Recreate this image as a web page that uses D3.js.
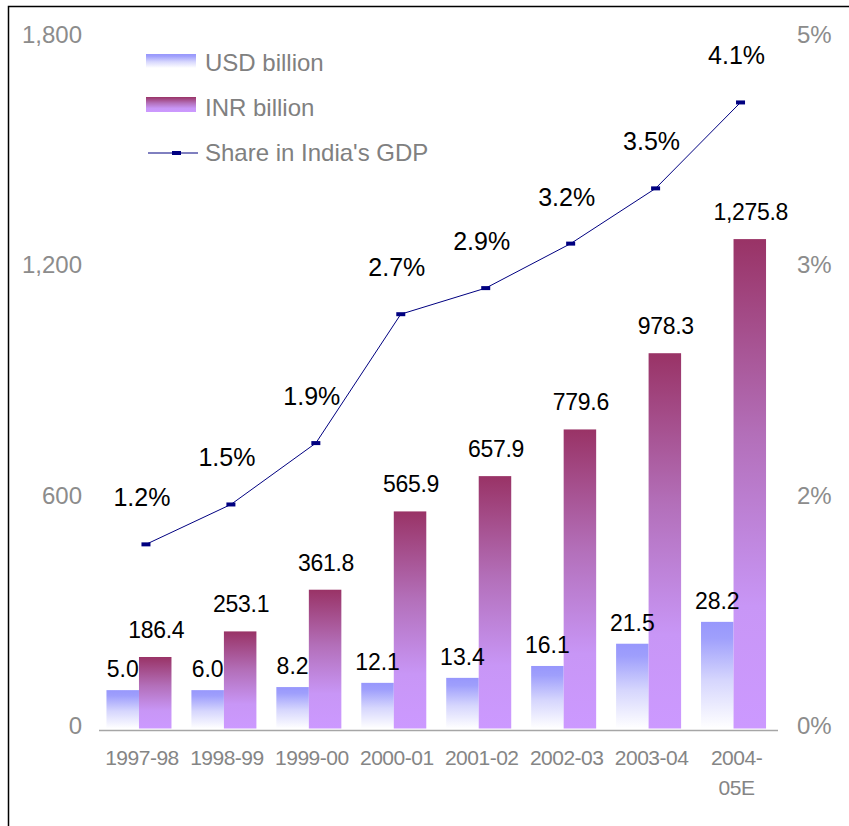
<html>
<head>
	<meta charset="UTF-8">
	<title>Share in India's GDP</title>
	<script src="https://cdn.jsdelivr.net/npm/d3@7"></script>
	<style>
		body {
			padding: 0;
			margin: 0;
			background: #fff;
		}
		text { font-family: "Liberation Sans", Arial, sans-serif; }
	</style>
</head>
<body>
	<script>
		// values
		var years = ["1997-98", "1998-99", "1999-00", "2000-01", "2001-02", "2002-03", "2003-04", "2004-05E"];
		var usdBillion = [5.0, 6.0, 8.2, 12.1, 13.4, 16.1, 21.5, 28.2];
		// height the USD bars are drawn at, in left axis units (they are not to scale in the original)
		var usdBarLevel = [100, 100, 108, 119, 132, 163, 221, 278];
		var inrBillion = [186.4, 253.1, 361.8, 565.9, 657.9, 779.6, 978.3, 1275.8];
		var gdpShare = [1.2, 1.46, 1.86, 2.70, 2.87, 3.16, 3.52, 4.08];
		var leftTicks = [0, 600, 1200, 1800];
		var rightTicks = [0, 1.5, 3, 4.5];

		var w = 849,
			h = 826;

		var svg = d3.select("body").append("svg")
			.attr("width", w)
			.attr("height", h);

		// frame, only top and left edges are inside the picture
		svg.append("rect")
			.attr("x", 8.5).attr("y", 6.5)
			.attr("width", 900).attr("height", 900)
			.attr("fill", "none")
			.attr("stroke", "#000")
			.attr("stroke-width", 1.5);

		var defs = svg.append("defs");
		var gUsd = defs.append("linearGradient").attr("id", "gUsd")
			.attr("x1", 0).attr("y1", 0).attr("x2", 0).attr("y2", 1);
		gUsd.append("stop").attr("offset", "0%").attr("stop-color", "#9797fc");
		gUsd.append("stop").attr("offset", "15%").attr("stop-color", "#9f9ffc");
		gUsd.append("stop").attr("offset", "55%").attr("stop-color", "#d6d6fd");
		gUsd.append("stop").attr("offset", "100%").attr("stop-color", "#ffffff");

		var gInr = defs.append("linearGradient").attr("id", "gInr")
			.attr("x1", 0).attr("y1", 0).attr("x2", 0).attr("y2", 1);
		gInr.append("stop").attr("offset", "0%").attr("stop-color", "#993366");
		gInr.append("stop").attr("offset", "40%").attr("stop-color", "#b36fb9");
		gInr.append("stop").attr("offset", "75%").attr("stop-color", "#c896f6");
		gInr.append("stop").attr("offset", "100%").attr("stop-color", "#cc99ff");

		var y = d3.scaleLinear().domain([0, 1800]).range([728.5, 38]);
		var yPct = d3.scaleLinear().domain([0, 4.5]).range([728.5, 38]);
		var x = d3.scaleBand().domain(years).range([96.5, 776])
			.paddingInner(0.2346).paddingOuter(0.1173);
		var xSub = d3.scaleBand().domain(["usd", "inr"]).range([0, x.bandwidth()]);
		var lineShift = 7;

		// bars
		var groups = svg.append("g").selectAll("g")
			.data(years)
			.enter().append("g")
			.attr("transform", function (d) { return "translate(" + x(d) + ",0)"; });

		groups.append("rect")
			.attr("x", xSub("usd"))
			.attr("y", function (d, i) { return y(usdBarLevel[i]); })
			.attr("width", xSub.bandwidth())
			.attr("height", function (d, i) { return y(0) - y(usdBarLevel[i]); })
			.attr("fill", "url(#gUsd)");

		groups.append("rect")
			.attr("x", xSub("inr"))
			.attr("y", function (d, i) { return y(inrBillion[i]); })
			.attr("width", xSub.bandwidth())
			.attr("height", function (d, i) { return y(0) - y(inrBillion[i]); })
			.attr("fill", "url(#gInr)");

		groups.append("text")
			.attr("x", xSub("usd") + xSub.bandwidth() / 2)
			.attr("y", function (d, i) { return y(usdBarLevel[i]) - 13; })
			.attr("text-anchor", "middle")
			.attr("font-size", 23)
			.attr("fill", "#000")
			.text(function (d, i) { return d3.format(".1f")(usdBillion[i]); });

		groups.append("text")
			.attr("x", xSub("inr") + xSub.bandwidth() / 2 + 1)
			.attr("y", function (d, i) { return y(inrBillion[i]) - 19; })
			.attr("text-anchor", "middle")
			.attr("font-size", 23)
			.attr("letter-spacing", -0.3)
			.attr("fill", "#000")
			.text(function (d, i) { return d3.format(",.1f")(inrBillion[i]); });

		// baseline
		svg.append("line")
			.attr("x1", 99).attr("x2", 778)
			.attr("y1", y(0) + 2).attr("y2", y(0) + 2)
			.attr("stroke", "#a6a6a6")
			.attr("stroke-width", 1.5);

		// GDP share line
		var lx = function (d, i) { return x(years[i]) + x.bandwidth() / 2 + lineShift; };
		var line = d3.line()
			.x(lx)
			.y(function (d) { return yPct(d); });

		svg.append("path")
			.datum(gdpShare)
			.attr("d", line)
			.attr("fill", "none")
			.attr("stroke", "#000080")
			.attr("stroke-width", 1);

		svg.append("g").selectAll("rect")
			.data(gdpShare)
			.enter().append("rect")
			.attr("x", function (d, i) { return lx(d, i) - 4.5; })
			.attr("y", function (d) { return yPct(d) - 2; })
			.attr("width", 9).attr("height", 4)
			.attr("fill", "#000080");

		svg.append("g").selectAll("text")
			.data(gdpShare)
			.enter().append("text")
			.attr("x", function (d, i) { return lx(d, i) - 4; })
			.attr("y", function (d) { return yPct(d) - 38; })
			.attr("text-anchor", "middle")
			.attr("font-size", 25)
			.attr("fill", "#000")
			.text(function (d) { return d3.format(".1f")(d) + "%"; });

		// left axis
		var leftAxis = svg.append("g")
			.attr("transform", "translate(84,0)")
			.call(d3.axisLeft(y).tickValues(leftTicks).tickSize(0).tickPadding(2).tickFormat(d3.format(",")));
		leftAxis.select(".domain").remove();
		leftAxis.selectAll("text")
			.attr("font-size", 24)
			.attr("fill", "#8c8c8c")
			.attr("y", -3)
			.style("font-family", "'Liberation Sans', Arial, sans-serif");

		// right axis
		var rightAxis = svg.append("g")
			.attr("transform", "translate(795,0)")
			.call(d3.axisRight(yPct).tickValues(rightTicks).tickSize(0).tickPadding(2)
				.tickFormat(function (d) { return d3.format(".0f")(d) + "%"; }));
		rightAxis.select(".domain").remove();
		rightAxis.selectAll("text")
			.attr("font-size", 24)
			.attr("fill", "#8c8c8c")
			.attr("y", -3)
			.style("font-family", "'Liberation Sans', Arial, sans-serif");

		// category labels
		var xAxis = svg.append("g")
			.attr("transform", "translate(3," + y(0) + ")")
			.call(d3.axisBottom(x).tickSize(0).tickPadding(0).tickFormat(""));
		xAxis.select(".domain").remove();
		xAxis.selectAll(".tick text").remove();
		xAxis.selectAll(".tick").append("text")
			.attr("text-anchor", "middle")
			.attr("font-size", 21)
			.attr("letter-spacing", -0.5)
			.attr("fill", "#858585")
			.each(function (d) {
				var parts = d.length > 7 ? [d.slice(0, 5), d.slice(5)] : [d];
				var t = d3.select(this);
				parts.forEach(function (p, k) {
					t.append("tspan").attr("x", 0).attr("y", 36 + k * 30).text(p);
				});
			});

		// legend
		var legend = svg.append("g");
		legend.append("rect").attr("x", 146).attr("y", 54).attr("width", 50).attr("height", 14).attr("fill", "url(#gUsd)");
		legend.append("rect").attr("x", 146).attr("y", 97).attr("width", 50).attr("height", 15).attr("fill", "url(#gInr)");
		legend.append("line").attr("x1", 148).attr("x2", 198).attr("y1", 153).attr("y2", 153)
			.attr("stroke", "#000080").attr("stroke-width", 1);
		legend.append("rect").attr("x", 172).attr("y", 151).attr("width", 9).attr("height", 4).attr("fill", "#000080");
		var legendNames = ["USD billion", "INR billion", "Share in India's GDP"];
		legend.selectAll("text.lg")
			.data(legendNames)
			.enter().append("text")
			.attr("class", "lg")
			.attr("x", 205)
			.attr("y", function (d, i) { return 71 + i * 45; })
			.attr("font-size", 24)
			.attr("fill", "#808080")
			.text(function (d) { return d; });
	</script>
</body>
</html>
